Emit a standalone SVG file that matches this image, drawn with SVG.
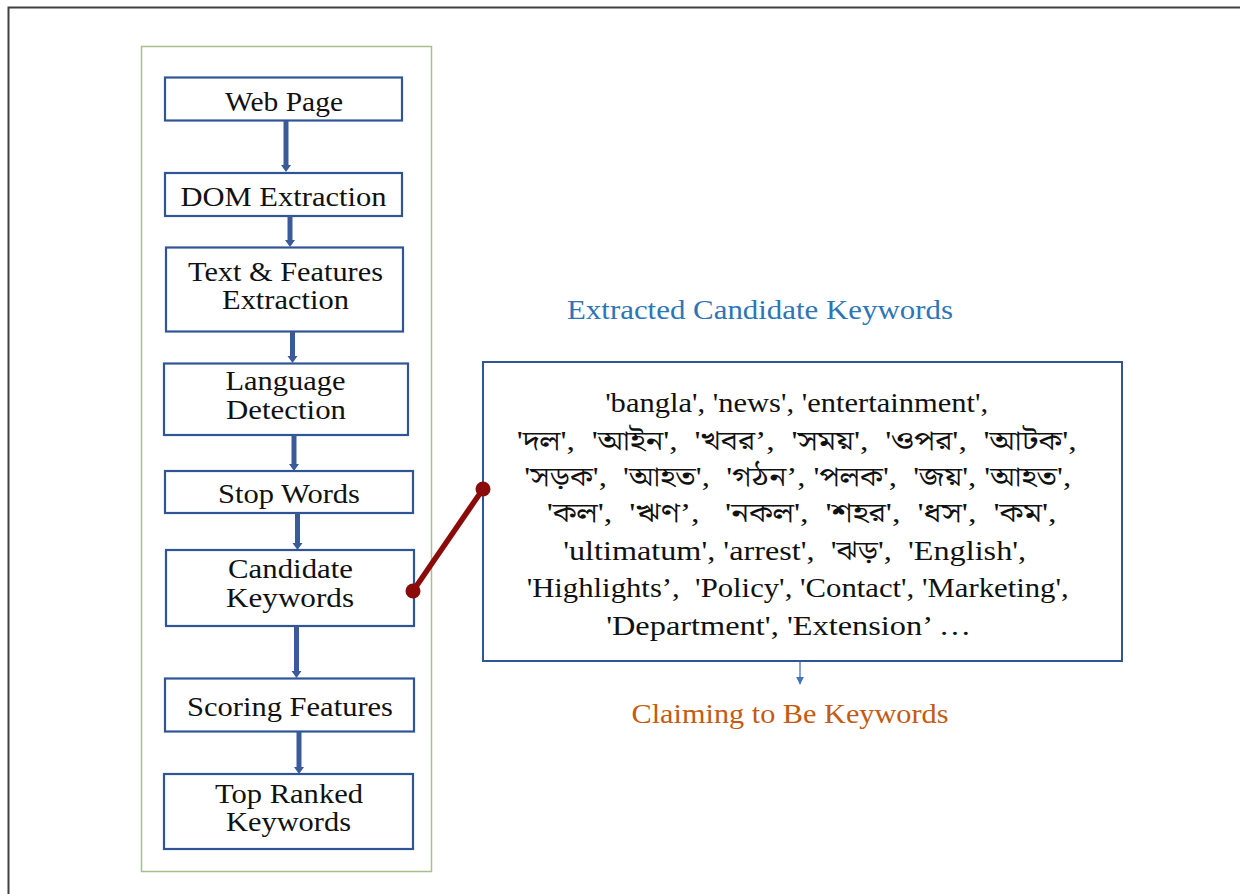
<svg xmlns="http://www.w3.org/2000/svg" width="1246" height="894" viewBox="0 0 1246 894">
<style>
.node rect{fill:#fff;stroke:#2F5597;stroke-width:2.2}
.nt{font-family:"Liberation Serif","Times New Roman",serif;font-size:28px;fill:#111;text-anchor:middle}
.kw{font-family:"Liberation Serif","Noto Serif Bengali","Noto Sans Bengali","Lohit Bengali","Noto Sans",serif;font-size:27px;fill:#111;text-anchor:middle}
.stem{stroke:#3A5A9A;stroke-width:5;fill:none}
.head{fill:#3A5A9A}
</style>
<defs>
<marker id="sm" viewBox="0 0 10 10" refX="9" refY="5" markerWidth="8" markerHeight="8" markerUnits="userSpaceOnUse" orient="auto">
<path d="M0,0 L10,5 L0,10 z" fill="#4472C4"/>
</marker>
</defs>
<rect width="1246" height="894" fill="#fff"/>
<path d="M8.5,894 L8.5,7.5 L1240,7.5" fill="none" stroke="#404040" stroke-width="2"/>
<rect id="frame" x="141.5" y="46.5" width="290" height="825" fill="none" stroke="#A8BE8C" stroke-width="1.5"/>

<g id="n-webpage" class="node"><rect x="165" y="77.5" width="237" height="43"/><text class="nt" x="284" y="111" textLength="118" lengthAdjust="spacingAndGlyphs">Web Page</text></g>
<g id="n-dom" class="node"><rect x="165" y="173" width="237" height="43"/><text class="nt" x="283.5" y="206" textLength="206" lengthAdjust="spacingAndGlyphs">DOM Extraction</text></g>
<g id="n-text" class="node"><rect x="166" y="247.5" width="237" height="84"/><text class="nt" x="285.5" y="281" textLength="195" lengthAdjust="spacingAndGlyphs">Text &amp; Features</text><text class="nt" x="285.5" y="309" textLength="127" lengthAdjust="spacingAndGlyphs">Extraction</text></g>
<g id="n-lang" class="node"><rect x="164" y="363.5" width="244" height="71.5"/><text class="nt" x="285.5" y="390" textLength="120" lengthAdjust="spacingAndGlyphs">Language</text><text class="nt" x="286" y="419" textLength="120" lengthAdjust="spacingAndGlyphs">Detection</text></g>
<g id="n-stop" class="node"><rect x="165" y="471" width="248" height="42"/><text class="nt" x="289" y="503" textLength="142" lengthAdjust="spacingAndGlyphs">Stop Words</text></g>
<g id="n-cand" class="node"><rect x="166" y="550" width="248" height="76"/><text class="nt" x="290.5" y="578" textLength="125" lengthAdjust="spacingAndGlyphs">Candidate</text><text class="nt" x="290" y="607" textLength="128" lengthAdjust="spacingAndGlyphs">Keywords</text></g>
<g id="n-score" class="node"><rect x="165" y="678.5" width="249" height="53"/><text class="nt" x="290" y="716" textLength="206" lengthAdjust="spacingAndGlyphs">Scoring Features</text></g>
<g id="n-top" class="node"><rect x="164" y="774" width="249" height="75"/><text class="nt" x="289" y="803" textLength="148" lengthAdjust="spacingAndGlyphs">Top Ranked</text><text class="nt" x="288.5" y="831" textLength="125" lengthAdjust="spacingAndGlyphs">Keywords</text></g>

<g id="n-keywords">
<rect x="483" y="362" width="639" height="299" fill="#fff" stroke="#2F5597" stroke-width="2"/>
<text class="kw" xml:space="preserve">
<tspan x="800" y="412" textLength="383" lengthAdjust="spacingAndGlyphs">'bangla', 'news', 'entertainment',</tspan>
<tspan x="800" y="450" textLength="560" lengthAdjust="spacingAndGlyphs">'দল',  'আইন',  'খবর’,  'সময়',  'ওপর',  'আটক',</tspan>
<tspan x="801" y="486" textLength="547" lengthAdjust="spacingAndGlyphs">'সড়ক',  'আহত',  'গঠন’, 'পলক',  'জয়', 'আহত',</tspan>
<tspan x="805" y="522" textLength="510" lengthAdjust="spacingAndGlyphs">'কল',  'ঋণ’,   'নকল',  'শহর',  'ধস',  'কম',</tspan>
<tspan x="798" y="560" textLength="463" lengthAdjust="spacingAndGlyphs">'ultimatum', 'arrest',  'ঝড়',  'English',</tspan>
<tspan x="801" y="597" textLength="542" lengthAdjust="spacingAndGlyphs">'Highlights’,  'Policy', 'Contact', 'Marketing',</tspan>
<tspan x="792" y="635" textLength="365" lengthAdjust="spacingAndGlyphs">'Department', 'Extension’ …</tspan>
</text>
</g>

<g id="connectors">
<line class="stem" x1="286" y1="121" x2="286" y2="167"/><path class="head" d="M281,165 L291,165 L286,172 z"/>
<line class="stem" x1="290" y1="216" x2="290" y2="241"/><path class="head" d="M285,240 L295,240 L290,247 z"/>
<line class="stem" x1="292.5" y1="332" x2="292.5" y2="357"/><path class="head" d="M287.5,356 L297.5,356 L292.5,363 z"/>
<line class="stem" x1="294" y1="435" x2="294" y2="465"/><path class="head" d="M289,464 L299,464 L294,471 z"/>
<line class="stem" x1="297.5" y1="513" x2="297.5" y2="544"/><path class="head" d="M292.5,543 L302.5,543 L297.5,550 z"/>
<line class="stem" x1="296.5" y1="626" x2="296.5" y2="672"/><path class="head" d="M291.5,671 L301.5,671 L296.5,678 z"/>
<line class="stem" x1="299" y1="732" x2="299" y2="768"/><path class="head" d="M294,767 L304,767 L299,774 z"/>
<line x1="413" y1="591" x2="483" y2="489" stroke="#8B0A0A" stroke-width="5.5"/>
<circle cx="413" cy="591" r="7.5" fill="#8B0A0A"/>
<circle cx="483" cy="489" r="7.5" fill="#8B0A0A"/>
<line x1="800" y1="662" x2="800" y2="684" stroke="#4472C4" stroke-width="1.3" marker-end="url(#sm)"/>
</g>

<g id="labels">
<text x="760" y="319" font-family="Liberation Serif, serif" font-size="27" fill="#2E75B6" text-anchor="middle" textLength="386" lengthAdjust="spacingAndGlyphs">Extracted Candidate Keywords</text>
<text x="790" y="723" font-family="Liberation Serif, serif" font-size="28" fill="#C55A11" text-anchor="middle" textLength="317" lengthAdjust="spacingAndGlyphs">Claiming to Be Keywords</text>
</g>
</svg>
